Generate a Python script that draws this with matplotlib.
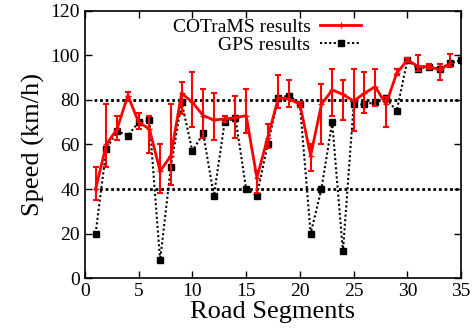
import matplotlib
matplotlib.use("Agg")
import matplotlib.pyplot as plt
from matplotlib.lines import Line2D

plt.rcParams['font.family'] = ['Liberation Serif', 'DejaVu Serif']

seg_gps = list(range(1, 36))
gps = [20, 58, 66, 64, 70, 71, 8, 50, 79, 57, 65, 37, 70, 72, 40, 37, 60, 81, 82, 78,
       20, 40, 70, 12, 78, 78, 79, 81, 75, 98, 94, 95, 94, 96.5, 98]

seg_cot = list(range(1, 35))
cot = [40, 60, 67, 82, 70, 67, 48, 55, 83, 79, 73, 71, 71.5, 72, 73, 45, 63, 81, 80.5, 78,
       55, 78, 84.5, 82.5, 79.5, 83, 86, 78, 92, 98, 95, 95, 93.5, 96.5]
cot_lo = [35, 50, 62, 79.5, 67, 56, 38, 42, 73.5, 68, 63, 62, 70, 63, 65, 38, 58.5, 76.5, 77, 77,
          48, 60, 73, 71, 66, 74, 77.5, 68, 91, 97, 93, 94, 89, 95]
cot_hi = [50, 78, 73, 83.5, 74, 73, 60, 78, 88, 92.5, 85, 83, 73, 82, 85, 48, 69, 91, 89, 79,
          60, 87, 94, 89, 94, 92.5, 94, 81.5, 94, 99, 100, 96, 96, 100.5]

yerr = [[c - l for c, l in zip(cot, cot_lo)], [h - c for c, h in zip(cot, cot_hi)]]

fig = plt.figure(figsize=(4.74, 3.31), dpi=100)
ax = fig.add_axes([0.179, 0.160, 0.794, 0.807])

ax.plot([0.85, 35], [80, 80], color='black', linestyle=(0, (1, 1)), linewidth=2)
ax.plot([0.85, 35], [40, 40], color='black', linestyle=(0, (1, 1)), linewidth=2)

ax.plot(seg_gps, gps, color='black', linestyle=(0, (1, 1.2)), linewidth=1.5,
        marker='s', markersize=4.5, zorder=3)
ax.errorbar(seg_cot, cot, yerr=yerr, color='red', linewidth=2, elinewidth=1.5,
            capsize=2.5, capthick=1.5, marker='+', markersize=4, zorder=4)

ax.set_xlim(0, 35)
ax.set_ylim(0, 120)
ax.set_xticks(range(0, 36, 5))
ax.set_yticks(range(0, 121, 20))
ax.tick_params(direction='in', top=True, right=True, labelsize=14, length=5, width=1)
ax.set_xlabel('Road Segments', fontsize=19, labelpad=1)
ax.set_ylabel('Speed (km/h)', fontsize=19, labelpad=4)
for s in ax.spines.values():
    s.set_linewidth(1.2)

h_cot = Line2D([], [], color='red', linewidth=2, marker='+', markersize=4)
h_gps = Line2D([], [], color='black', linestyle=(0, (1, 1.2)), linewidth=1.5,
               marker='s', markersize=4.5)
ax.legend([h_cot, h_gps], ['COTraMS results', 'GPS results'],
          loc='upper right', bbox_to_anchor=(0.775, 1.03), frameon=False,
          markerfirst=False, fontsize=14, handlelength=2.1,
          labelspacing=0.0, borderpad=0.3, handletextpad=0.5)

fig.savefig('out.png', dpi=100)
